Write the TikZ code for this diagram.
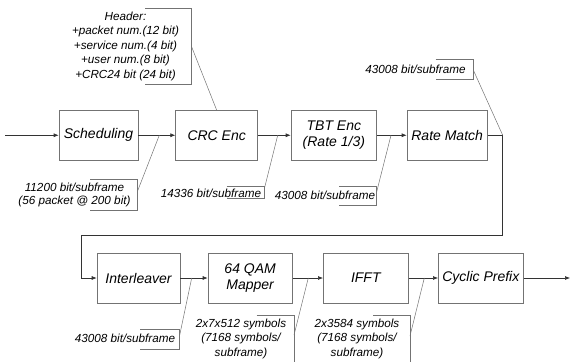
\documentclass[tikz,border=0pt]{standalone}
\usepackage{fontspec}
\setmainfont{Liberation Sans}
\usetikzlibrary{arrows.meta}
\begin{document}
\begin{tikzpicture}[x=1pt,y=-1pt,
 box/.style={draw=black!55, line width=0.6pt, minimum height=49.5pt, inner sep=0pt, align=center, font=\fontsize{14}{16.5}\selectfont\itshape},
 lbl/.style={inner sep=0pt, align=center, font=\fontsize{11.7}{14.5}\selectfont\itshape},
 flow/.style={draw=black!80, line width=0.6pt, -{Latex[length=5pt,width=4pt]}},
 lead/.style={draw=black!55, line width=0.5pt},
 brk/.style={draw=black!55, line width=0.5pt}]
\useasboundingbox (0,0) rectangle (571,362);

% boxes
\node[box, minimum width=79pt] (sch) at (98.5,135.25) {Scheduling};
\node[box, minimum width=82pt] (crc) at (216.7,135.25) {CRC Enc};
\node[box, minimum width=85.7pt] (tbt) at (333.85,135.25) {TBT Enc\\(Rate 1/3)};
\node[box, minimum width=80.3pt] (rm) at (447.15,135.25) {Rate Match};
\node[box, minimum width=83pt, minimum height=50pt] (il) at (138.5,278) {Interleaver};
\node[box, minimum width=84.3pt, minimum height=50pt] (qam) at (250.15,278) {64 QAM\\Mapper};
\node[box, minimum width=85pt, minimum height=50pt] (ifft) at (365.8,278) {IFFT};
\node[box, minimum width=85pt, minimum height=50pt] (cp) at (480.8,278) {Cyclic Prefix};

% flow coordinates
\coordinate (in) at (5,135.25);
\coordinate (out) at (570,278);
\coordinate (c1) at (502.7,135.25);
\coordinate (c2) at (502.7,235);
\coordinate (c3) at (81.7,235);
\coordinate (c4) at (81.7,278);

\draw[flow] (in) -- (sch);
\draw[flow] (sch) -- (crc);
\draw[flow] (crc) -- (tbt);
\draw[flow] (tbt) -- (rm);
\draw[flow] (rm.east) -- (c1) -- (c2) -- (c3) -- (c4) -- (il.west);
\draw[flow] (il) -- (qam);
\draw[flow] (qam) -- (ifft);
\draw[flow] (ifft) -- (cp);
\draw[flow] (cp) -- (out);

% junctions on flow lines
\coordinate (j1) at (159.3,135.25);
\coordinate (j2) at (277.7,135.25);
\coordinate (j3) at (391,135.25);
\coordinate (j5) at (191.7,278);
\coordinate (j6) at (308.3,278);
\coordinate (j7) at (424.3,278);

% header label
\node[lbl] (hdr) at (125.5,46) {Header:\\+packet num.(12 bit)\\+service num.(4 bit)\\+user num.(8 bit)\\+CRC24 bit (24 bit)};
\draw[brk] (145,8) -- (191.7,8) -- (191.7,84) -- (145,84);
\coordinate (h1) at (191.7,47);
\draw[lead] (h1) -- (crc.north);

% scheduling label
\node[lbl, font=\fontsize{11.7}{13.5}\selectfont\itshape] (l1) at (74.5,195) {11200 bit/subframe\\(56 packet @ 200 bit)};
\draw[brk] (90,179.3) -- (137.3,179.3) -- (137.3,210.7) -- (90,210.7);
\coordinate (k1) at (137.3,191.7);
\draw[lead] (k1) -- (j1);

% crc label
\node[lbl] (l2) at (211,193.5) {14336 bit/subframe};
\draw[brk] (226.7,186) -- (264.3,186) -- (264.3,198.3) -- (226.7,198.3);
\coordinate (k2) at (264.3,189);
\draw[lead] (k2) -- (j2);

% tbt label
\node[lbl] (l3) at (325,195.5) {43008 bit/subframe};
\draw[brk] (339.3,186.3) -- (376.7,186.3) -- (376.7,205) -- (339.3,205);
\coordinate (k3) at (376.7,191.7);
\draw[lead] (k3) -- (j3);

% rate match label
\node[lbl] (l4) at (415.5,69.3) {43008 bit/subframe};
\draw[brk] (435.5,59.5) -- (473.3,59.5) -- (473.3,79.3) -- (435.5,79.3);
\coordinate (k4) at (473.3,70);
\draw[lead] (k4) -- (c1);

% interleaver label
\node[lbl] (l5) at (125,338.3) {43008 bit/subframe};
\draw[brk] (140,329.3) -- (179.3,329.3) -- (179.3,349) -- (140,349);
\coordinate (k5) at (179.3,337);
\draw[lead] (k5) -- (j5);

% qam label
\node[lbl] (l6) at (241,338.5) {2x7x512 symbols\\(7168 symbols/\\subframe)};
\draw[brk] (256.7,315) -- (294,315) -- (294,362);
\coordinate (k6) at (294,335);
\draw[lead] (k6) -- (j6);

% ifft label
\node[lbl] (l7) at (357,338.5) {2x3584 symbols\\(7168 symbols/\\subframe)};
\draw[brk] (373.3,315) -- (410,315) -- (410,362);
\coordinate (k7) at (410,336);
\draw[lead] (k7) -- (j7);
\end{tikzpicture}
\end{document}
